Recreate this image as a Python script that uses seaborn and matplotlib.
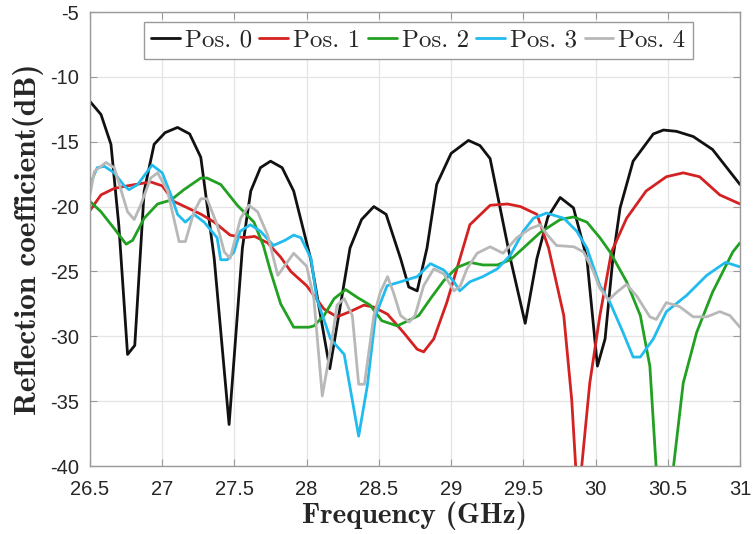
import numpy as np
import pandas as pd
import matplotlib
matplotlib.use("Agg")
import matplotlib.pyplot as plt
import seaborn as sns

# ---------------- data ----------------
series_names = ["Pos. 0", "Pos. 1", "Pos. 2", "Pos. 3", "Pos. 4"]

x_pos0 = [26.5, 26.576, 26.645, 26.70, 26.76, 26.81, 26.875, 26.944, 27.02, 27.106, 27.19,
          27.267, 27.36, 27.463, 27.555, 27.613, 27.68, 27.75, 27.83, 27.91, 28.027, 28.16,
          28.30, 28.38, 28.465, 28.55, 28.65, 28.707, 28.765, 28.833, 28.90, 29.0, 29.12,
          29.2, 29.27, 29.41, 29.513, 29.594, 29.67, 29.755, 29.847, 29.94, 30.013, 30.066,
          30.12, 30.17, 30.26, 30.40, 30.47, 30.56, 30.676, 30.81, 31.0]
y_pos0 = [-11.9, -12.9, -15.2, -21.5, -31.4, -30.7, -18.8, -15.2, -14.3, -13.9, -14.4,
          -16.2, -24.0, -36.8, -23.2, -18.8, -17.0, -16.5, -17.0, -18.8, -24.0, -32.5,
          -23.2, -21.0, -20.0, -20.6, -24.0, -26.2, -26.5, -23.2, -18.3, -15.9, -14.9,
          -15.3, -16.3, -24.0, -29.0, -24.0, -20.8, -19.3, -20.1, -24.0, -32.3, -30.2,
          -24.0, -20.1, -16.5, -14.4, -14.1, -14.2, -14.6, -15.6, -18.3]

x_pos1 = [26.5, 26.576, 26.668, 26.76, 26.92, 27.0, 27.08, 27.175, 27.27, 27.36, 27.47,
          27.566, 27.64, 27.73, 27.82, 27.89, 28.0, 28.12, 28.21, 28.30, 28.396, 28.465,
          28.56, 28.67, 28.765, 28.81, 28.88, 28.97, 29.04, 29.13, 29.27, 29.39, 29.48,
          29.594, 29.675, 29.78, 29.835, 29.865, 29.88, 29.90, 29.96, 30.03, 30.11, 30.215,
          30.35, 30.49, 30.607, 30.72, 30.86, 31.0]
y_pos1 = [-20.3, -19.1, -18.6, -18.4, -18.1, -18.4, -19.6, -20.1, -20.6, -21.2, -22.2,
          -22.4, -22.3, -22.8, -23.9, -25.0, -26.1, -27.9, -28.5, -28.1, -27.6, -27.75,
          -28.3, -29.7, -31.0, -31.2, -30.2, -27.4, -24.8, -21.4, -19.9, -19.8, -20.0,
          -20.6, -23.2, -28.4, -34.9, -40.5, -44.0, -40.5, -33.6, -28.4, -23.5, -20.9,
          -18.8, -17.7, -17.4, -17.7, -19.1, -19.8]

x_pos2 = [26.5, 26.576, 26.668, 26.75, 26.795, 26.875, 26.968, 27.06, 27.15, 27.267, 27.31,
          27.405, 27.52, 27.635, 27.70, 27.75, 27.82, 27.91, 28.016, 28.05, 28.12, 28.19,
          28.27, 28.35, 28.44, 28.52, 28.627, 28.72, 28.776, 28.857, 28.95, 29.04, 29.13,
          29.22, 29.32, 29.41, 29.50, 29.617, 29.755, 29.847, 29.94, 30.03, 30.10, 30.215,
          30.31, 30.376, 30.42, 30.48, 30.538, 30.607, 30.70, 30.81, 30.95, 31.0]
y_pos2 = [-19.6, -20.4, -21.7, -22.9, -22.6, -20.9, -19.8, -19.5, -18.7, -17.8, -17.8,
          -18.3, -19.9, -21.2, -23.0, -25.0, -27.5, -29.3, -29.3, -29.2, -28.4, -27.1,
          -26.4, -27.0, -27.6, -28.8, -29.2, -28.7, -28.4, -27.1, -25.7, -24.7, -24.3,
          -24.5, -24.5, -24.1, -23.2, -22.0, -21.0, -20.8, -21.2, -22.4, -23.5, -25.8,
          -28.4, -32.3, -40.2, -46.0, -40.2, -33.6, -29.7, -26.6, -23.5, -22.8]

x_pos3 = [26.5, 26.55, 26.6, 26.668, 26.737, 26.77, 26.83, 26.93, 27.0, 27.06, 27.106,
          27.16, 27.22, 27.29, 27.38, 27.405, 27.45, 27.497, 27.54, 27.61, 27.68, 27.77,
          27.85, 27.91, 27.96, 28.03, 28.07, 28.165, 28.26, 28.36, 28.42, 28.477, 28.557,
          28.65, 28.765, 28.857, 28.95, 29.02, 29.06, 29.13, 29.22, 29.32, 29.41, 29.50,
          29.57, 29.66, 29.78, 29.87, 29.94, 30.03, 30.10, 30.19, 30.26, 30.31, 30.40,
          30.49, 30.63, 30.77, 30.90, 31.0]
y_pos3 = [-18.3, -17.0, -16.9, -17.4, -18.4, -18.7, -18.3, -16.8, -17.4, -19.1, -20.6,
          -21.2, -20.6, -21.2, -22.4, -24.1, -24.1, -23.5, -21.9, -21.4, -21.9, -23.0,
          -22.6, -22.2, -22.4, -24.0, -27.1, -30.2, -31.4, -37.7, -33.8, -28.4, -26.1,
          -25.8, -25.4, -24.4, -24.9, -25.8, -26.5, -25.8, -25.4, -24.8, -23.75, -21.9,
          -20.9, -20.5, -20.9, -21.9, -23.2, -26.1, -27.4, -29.7, -31.6, -31.6, -30.2,
          -28.1, -26.85, -25.3, -24.3, -24.65]

x_pos4 = [26.5, 26.53, 26.61, 26.668, 26.76, 26.806, 26.85, 26.92, 26.968, 27.037, 27.117,
          27.16, 27.22, 27.267, 27.31, 27.38, 27.43, 27.47, 27.543, 27.60, 27.66, 27.73,
          27.80, 27.91, 28.0, 28.05, 28.108, 28.165, 28.21, 28.26, 28.316, 28.36, 28.40,
          28.465, 28.51, 28.56, 28.60, 28.65, 28.71, 28.75, 28.81, 28.88, 28.95, 29.02,
          29.064, 29.11, 29.18, 29.27, 29.36, 29.455, 29.547, 29.617, 29.66, 29.73, 29.85,
          29.917, 29.985, 30.03, 30.09, 30.147, 30.215, 30.285, 30.376, 30.42, 30.49,
          30.58, 30.676, 30.77, 30.86, 30.93, 31.0]
y_pos4 = [-19.1, -17.3, -16.6, -17.0, -20.4, -21.0, -19.9, -17.8, -17.4, -18.8, -22.7,
          -22.7, -20.4, -19.4, -19.4, -21.4, -23.5, -24.0, -20.9, -19.9, -20.4, -22.2,
          -25.3, -23.6, -24.6, -27.1, -34.6, -31.0, -27.6, -27.1, -28.4, -33.7, -33.7,
          -28.4, -26.6, -25.4, -26.6, -28.4, -28.9, -28.4, -26.1, -24.8, -25.2, -26.5,
          -26.1, -24.8, -23.6, -23.1, -23.6, -22.4, -21.7, -21.4, -22.1, -23.0, -23.1,
          -23.5, -25.0, -26.3, -27.2, -26.6, -26.0, -26.9, -28.5, -28.7, -27.4, -27.7,
          -28.5, -28.5, -28.1, -28.4, -29.3]

x_ticks = [26.5, 27, 27.5, 28, 28.5, 29, 29.5, 30, 30.5, 31]
x_tick_labels = ["26.5", "27", "27.5", "28", "28.5", "29", "29.5", "30", "30.5", "31"]
y_ticks = [-40, -35, -30, -25, -20, -15, -10, -5]
y_tick_labels = ["-40", "-35", "-30", "-25", "-20", "-15", "-10", "-5"]

colors = ["#111111", "#d42222", "#22a022", "#22bbee", "#b8b8b8"]

# ---------------- build long-form table ----------------
xs = [x_pos0, x_pos1, x_pos2, x_pos3, x_pos4]
ys = [y_pos0, y_pos1, y_pos2, y_pos3, y_pos4]
frames = []
for name, xv, yv in zip(series_names, xs, ys):
    frames.append(pd.DataFrame({"Frequency": xv, "S11": yv, "Series": name}))
df = pd.concat(frames, ignore_index=True)

# ---------------- plot ----------------
sns.set_theme(style="white")
plt.rcParams["axes.unicode_minus"] = False
plt.rcParams["font.family"] = ["Liberation Sans", "DejaVu Sans"]

fig = plt.figure(figsize=(7.53, 5.34), dpi=100)
ax = fig.add_axes([90 / 753, 68 / 534, 650 / 753, 454 / 534])

sns.lineplot(data=df, x="Frequency", y="S11", hue="Series", hue_order=series_names,
             palette=colors, estimator=None, sort=False, linewidth=2.0, ax=ax,
             legend=True)

ax.set_xlim(26.5, 31)
ax.set_ylim(-40, -5)
ax.set_xticks(x_ticks)
ax.set_xticklabels(x_tick_labels)
ax.set_yticks(y_ticks)
ax.set_yticklabels(y_tick_labels)

ax.grid(True, color="#e4e4e4", linewidth=0.9)
ax.set_axisbelow(True)
for sp in ax.spines.values():
    sp.set_color("#9a9a9a")
    sp.set_linewidth(1.0)
ax.tick_params(axis="both", direction="in", length=5, width=0.8, color="#9a9a9a",
               labelsize=14.5, labelcolor="#262626", top=True, right=True,
               bottom=True, left=True)
ax.tick_params(axis="x", pad=10)
ax.tick_params(axis="y", pad=8)

ax.set_xlabel("Frequency (GHz)", fontsize=21, family="cmb10", color="#262626",
              labelpad=2)
ax.set_ylabel("Reflection coefficient(dB)", fontsize=22.5, family="cmb10",
              color="#262626", labelpad=4)

handles, labels = ax.get_legend_handles_labels()
leg = ax.legend(handles, labels, loc="upper center",
                bbox_to_anchor=(0.505, 0.99), ncol=5, frameon=True, fancybox=False,
                edgecolor="#9a9a9a", framealpha=1.0, handlelength=1.15,
                handletextpad=0.2, columnspacing=0.3, borderpad=0.3,
                borderaxespad=0.2, prop={"family": "cmr10", "size": 18})
leg.get_frame().set_linewidth(1.0)

fig.savefig("out.png", dpi=100)
